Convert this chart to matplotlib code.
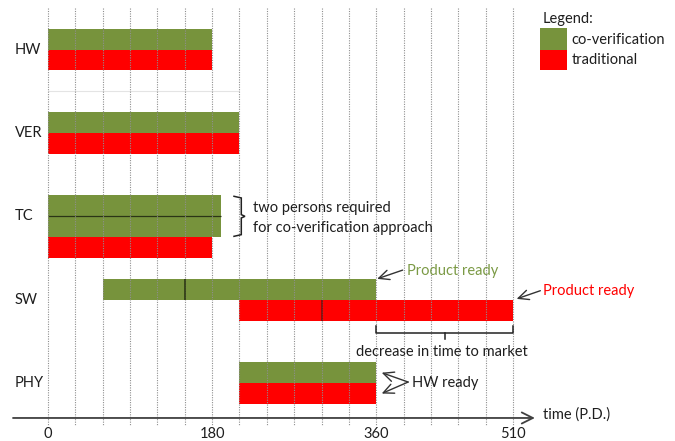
import matplotlib
matplotlib.use("Agg")
import matplotlib.pyplot as plt
import numpy as np
from matplotlib.patches import Rectangle

plt.rcParams['font.family'] = ['Lato', 'DejaVu Sans']

# ---------------- data ----------------
categories = ["HW", "VER", "TC", "SW", "PHY"]
co_start = [0, 0, 0, 60, 210]          # co-verification start (P.D.)
co_end = [180, 210, 190, 360, 360]     # co-verification end (P.D.)
co_lanes = [1, 1, 2, 1, 1]             # persons required (TC: two)
co_breaks = [[], [], [], [150], []]    # segment boundaries inside bars
tr_start = [0, 0, 0, 210, 210]         # traditional start
tr_end = [180, 210, 180, 510, 360]     # traditional end
tr_breaks = [[], [], [], [300], []]
tick_values = [0, 180, 360, 510]
grid_values = list(range(0, 511, 30))

GREEN = "#77933C"
RED = "#FF0000"
TXT = "#1e1e1e"
FS = 10.5

fig = plt.figure(figsize=(6.75, 4.41), dpi=100)
ax = fig.add_axes([0, 0, 1, 1])
ax.set_xlim(-52.645, 687.68)
ax.set_ylim(4.694, -0.5935)
ax.patch.set_alpha(0)
for s in ["top", "right", "left", "bottom"]:
    ax.spines[s].set_visible(False)
ax.set_yticks([])

h = 0.25
axis_y = 4.418

# bars
for i, cat in enumerate(categories):
    n = co_lanes[i]
    for k in range(n):
        y0 = i - h + k * h
        ax.barh(y0, co_end[i] - co_start[i], left=co_start[i], height=h,
                align='edge', color=GREEN, linewidth=0, zorder=2)
        for b in co_breaks[i]:
            ax.vlines(b, y0, y0 + h, colors="#26300f", lw=1.1, zorder=3.5)
    for k in range(1, n):
        ax.hlines(i - h + k * h, co_start[i], co_end[i], colors="#2b3516",
                  lw=0.9, zorder=2.5)
    yr = i - h + n * h
    ax.barh(yr, tr_end[i] - tr_start[i], left=tr_start[i], height=h,
            align='edge', color=RED, linewidth=0, zorder=2)
    for b in tr_breaks[i]:
        ax.vlines(b, yr, yr + h, colors="#6e1010", lw=1.1, zorder=3.5)
    ax.text(-36.2, i, cat, ha='left', va='center', fontsize=FS, color=TXT)

# faint separator below HW
ax.hlines(0.5, 0, 210, colors="#e4e4e4", lw=0.8, zorder=1)

# grid
ax.vlines(grid_values, -0.5, 4.5, colors="#8f8f8f", lw=0.8,
          linestyles=(0, (1, 1.2)), zorder=3)

# x axis with arrow
ax.spines['bottom'].set_position(('data', axis_y))
ax.set_xticks(tick_values)
ax.tick_params(axis='x', length=0, pad=6.5, labelsize=FS, labelcolor=TXT)
ax.annotate('', xy=(534, axis_y), xytext=(-38.4, axis_y),
            arrowprops=dict(arrowstyle='->,head_length=0.8,head_width=0.4',
                            color="#404040", lw=1.3, shrinkA=0, shrinkB=0),
            zorder=4)
ax.text(543, axis_y - 0.04, "time (P.D.)", ha='left', va='center',
        fontsize=FS, color=TXT)

# TC bracket
tc = categories.index("TC")
bx = 212
ax.plot([bx - 8, bx, bx, bx + 4, bx, bx, bx - 8],
        [tc - h + 0.01, tc - h + 0.03, tc - 0.02, tc, tc + 0.02, tc + h - 0.03, tc + h - 0.01],
        color="#222222", lw=1.1, zorder=4, solid_joinstyle='miter')
ax.text(225, tc - 0.10, "two persons required", ha='left', va='center',
        fontsize=FS, color=TXT)
ax.text(225, tc + 0.14, "for co-verification approach", ha='left', va='center',
        fontsize=FS, color=TXT)

# SW annotations
sw = categories.index("SW")
arrow_kw = dict(arrowstyle='->,head_length=0.75,head_width=0.35', color="#333333",
                lw=1.0, shrinkA=0, shrinkB=0)
ax.annotate('', xy=(co_end[sw] + 1, sw - h), xytext=(389, sw - 0.355),
            arrowprops=arrow_kw)
ax.text(394, sw - 0.35, "Product ready", ha='left', va='center',
        fontsize=FS, color="#7b9a45")
ax.annotate('', xy=(tr_end[sw] + 4, sw - 0.01), xytext=(540, sw - 0.108),
            arrowprops=arrow_kw)
ax.text(543, sw - 0.105, "Product ready", ha='left', va='center',
        fontsize=FS, color=RED)

# decrease bracket
x1, x2 = co_end[sw], tr_end[sw]
yb_top, yb = sw + 0.315, sw + 0.40
xm = (x1 + x2) / 2
ax.plot([x1, x1, x2, x2], [yb_top, yb, yb, yb_top], color="#222222", lw=1.1, zorder=4)
ax.plot([xm, xm], [yb, sw + 0.47], color="#222222", lw=1.1, zorder=4)
ax.text(xm - 3, sw + 0.625, "decrease in time to market", ha='center', va='center',
        fontsize=FS, color=TXT)

# PHY annotations
phy = categories.index("PHY")
ax.annotate('', xy=(co_end[phy] + 6, phy - h / 2), xytext=(395, phy - 0.013),
            arrowprops=arrow_kw)
ax.annotate('', xy=(co_end[phy] + 6, phy + h / 2), xytext=(395, phy - 0.013),
            arrowprops=arrow_kw)
ax.text(399, phy, "HW ready", ha='left', va='center', fontsize=FS, color=TXT)

# legend (manual, matches layout)
W, H = 675.0, 441.0
ax.text(543 / W, 1 - 19 / H, "Legend:", transform=ax.transAxes, ha='left',
        va='center', fontsize=FS, color=TXT)
ax.add_patch(Rectangle((540 / W, 1 - 50 / H), 27 / W, 21.7 / H,
                       transform=ax.transAxes, color=GREEN, lw=0))
ax.add_patch(Rectangle((540 / W, 1 - 70 / H), 27 / W, 20 / H,
                       transform=ax.transAxes, color=RED, lw=0))
ax.text(571.5 / W, 1 - 40 / H, "co-verification", transform=ax.transAxes,
        ha='left', va='center', fontsize=FS, color=TXT)
ax.text(571.5 / W, 1 - 60 / H, "traditional", transform=ax.transAxes,
        ha='left', va='center', fontsize=FS, color=TXT)

fig.savefig("out.png", dpi=100)
